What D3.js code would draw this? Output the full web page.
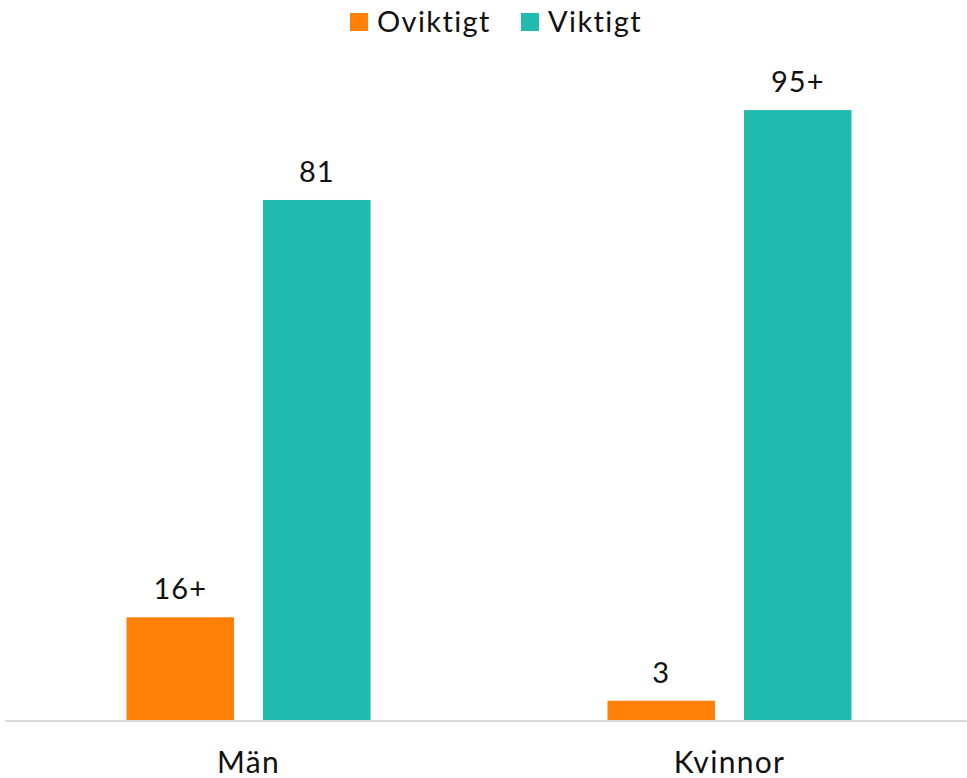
<!DOCTYPE html>
<meta charset="utf-8">
<style>
	body { margin: 0; font-family: "Lato", "DejaVu Sans", sans-serif; background: #fff; }
	text { fill: #111; }
</style>
<body>
<svg id="chart" width="967" height="778"></svg>
<script src="https://d3js.org/d3.v7.min.js"></script>
<script>
	var categories = ["Män", "Kvinnor"];
	var seriesNames = ["Oviktigt", "Viktigt"];
	var oviktigt = [16, 3];
	var viktigt = [81, 95];
	var oviktigtLabels = ["16+", "3"];
	var viktigtLabels = ["81", "95+"];
	var colors = ["#FF7F07", "#20BBAE"];

	var svg = d3.select("#chart"),
		margin = {top: 78, left: 8, right: -3, bottom: 58},
		width = +svg.attr("width"),
		height = +svg.attr("height");

	var rows = categories.map(function(c, i) {
		return {cat: c, vals: [
			{s: 0, v: oviktigt[i], label: oviktigtLabels[i]},
			{s: 1, v: viktigt[i], label: viktigtLabels[i]}
		]};
	});

	var x0 = d3.scaleBand()
		.domain(categories)
		.range([margin.left, width - margin.right])
		.padding(0);

	var x1 = d3.scaleBand()
		.domain([0, 1])
		.range([0, x0.bandwidth()])
		.paddingInner(0.2125)
		.paddingOuter(0.868);

	var y = d3.scaleLinear()
		.domain([0, 100])
		.range([height - margin.bottom, margin.top]);

	var g = svg.selectAll(".grp")
		.data(rows)
		.enter().append("g")
		.attr("class", "grp")
		.attr("transform", function(d) { return "translate(" + x0(d.cat) + ",0)"; });

	g.selectAll("rect")
		.data(function(d) { return d.vals; })
		.enter().append("rect")
		.attr("x", function(d) { return x1(d.s); })
		.attr("y", function(d) { return y(d.v); })
		.attr("width", x1.bandwidth())
		.attr("height", function(d) { return y(0) - y(d.v); })
		.attr("fill", function(d) { return colors[d.s]; });

	g.selectAll(".lbl")
		.data(function(d) { return d.vals; })
		.enter().append("text")
		.attr("class", "lbl")
		.attr("x", function(d) { return x1(d.s) + x1.bandwidth() / 2; })
		.attr("y", function(d) { return y(d.v) - 18; })
		.attr("text-anchor", "middle")
		.style("font-size", "29px")
		.style("letter-spacing", "1px")
		.text(function(d) { return d.label; });

	// baseline
	svg.append("line")
		.attr("x1", 5).attr("x2", width)
		.attr("y1", y(0) + 1).attr("y2", y(0) + 1)
		.attr("stroke", "#D9D9D9")
		.attr("stroke-width", 2);

	var xAxis = svg.append("g")
		.attr("transform", "translate(0," + (y(0) + 1) + ")")
		.call(d3.axisBottom(x0).tickSize(0).tickPadding(31));
	xAxis.select(".domain").remove();
	xAxis.selectAll("text")
		.style("font-size", "30px")
		.style("letter-spacing", "1.3px")
		.style("font-family", "Lato, 'DejaVu Sans', sans-serif")
		.attr("fill", "#111");

	// legend
	var legendX = [350, 521];
	var leg = svg.selectAll(".leg")
		.data(seriesNames)
		.enter().append("g")
		.attr("class", "leg")
		.attr("transform", function(d, i) { return "translate(" + legendX[i] + ",13)"; });
	leg.append("rect")
		.attr("width", 18).attr("height", 18)
		.attr("fill", function(d, i) { return colors[i]; });
	leg.append("text")
		.attr("x", 27).attr("y", 19)
		.style("font-size", "29px")
		.style("letter-spacing", "1.4px")
		.text(function(d) { return d; });
</script>
</body>
